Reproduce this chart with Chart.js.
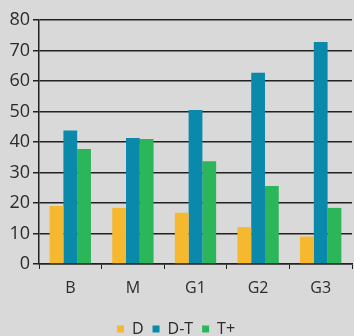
<!DOCTYPE html>
<html>
<head>
<meta charset="utf-8">
<script src="https://cdn.jsdelivr.net/npm/chart.js@4/dist/chart.umd.min.js"></script>
<style>
  html, body { margin: 0; padding: 0; background: #d9d9d9; }
  #wrap { width: 354px; height: 336px; }
</style>
</head>
<body>
<div id="wrap"><canvas id="barChart" width="354" height="336"></canvas></div>
<script>
// groups and series
const groups = ["B", "M", "G1", "G2", "G3"];
const seriesD = [19, 18.4, 16.8, 12.1, 9];
const seriesDT = [43.8, 41.3, 50.5, 62.7, 72.8];
const seriesTplus = [37.7, 41, 33.7, 25.6, 18.4];

const allColor = ["#f5b82e", "#0a89aa", "#2bb65a"];
const textColor = "#2b2b2b";
const fontFamily = "'Open Sans', sans-serif";

const barData = {
  labels: groups,
  datasets: [
    { label: "D", data: seriesD, backgroundColor: allColor[0] },
    { label: "D-T", data: seriesDT, backgroundColor: allColor[1] },
    { label: "T+", data: seriesTplus, backgroundColor: allColor[2] },
  ],
};

const barOptions = {
  responsive: false,
  animation: false,
  maintainAspectRatio: false,
  layout: { padding: { top: 20, right: 2, left: 0, bottom: -11 } },
  datasets: {
    bar: { categoryPercentage: 0.66, barPercentage: 1.0 },
  },
  plugins: {
    tooltip: { enabled: false },
    legend: {
      position: "bottom",
      labels: {
        boxWidth: 7,
        boxHeight: 7,
        padding: 9,
        color: textColor,
        font: { family: fontFamily, size: 16 },
      },
    },
  },
  scales: {
    x: {
      offset: true,
      afterFit: (scale) => { scale.height = 48; },
      grid: {
        offset: true,
        drawOnChartArea: false,
        drawTicks: true,
        tickLength: 5,
        color: "#222",
      },
      border: { color: "#222", width: 1.5 },
      ticks: {
        color: textColor,
        padding: 10,
        font: { family: fontFamily, size: 16 },
      },
    },
    y: {
      min: 0,
      max: 80,
      afterFit: (scale) => { scale.width = 39; },
      grid: {
        color: "#222",
        lineWidth: 1.5,
        drawTicks: true,
        tickLength: 6,
      },
      border: { color: "#222", width: 1.5 },
      ticks: {
        stepSize: 10,
        color: textColor,
        padding: 3,
        font: { family: fontFamily, size: 18 },
      },
    },
  },
};

const barCanvas = document.getElementById("barChart").getContext("2d");
const barChart = new Chart(barCanvas, {
  type: "bar",
  data: barData,
  options: barOptions,
});
</script>
</body>
</html>
